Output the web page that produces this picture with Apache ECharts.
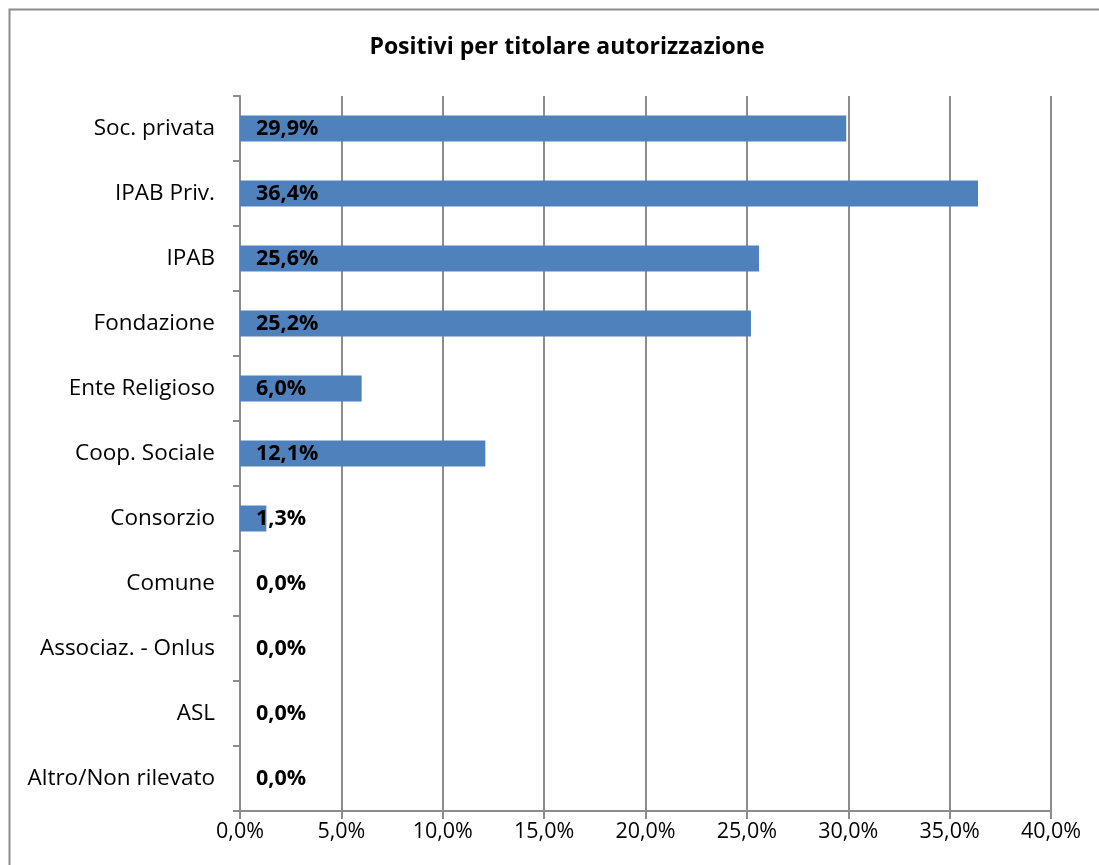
<!DOCTYPE html>
<html>
<head>
<meta charset="utf-8">
<script src="https://cdn.jsdelivr.net/npm/echarts@6/dist/echarts.min.js"></script>
<style>
  html, body { margin: 0; padding: 0; background: #fff; }
  #chart { width: 1099px; height: 865px; }
</style>
</head>
<body>
<div id="chart"></div>
<script>
const categories = [
  'Soc. privata', 'IPAB Priv.', 'IPAB', 'Fondazione', 'Ente Religioso',
  'Coop. Sociale', 'Consorzio', 'Comune', 'Associaz. - Onlus', 'ASL', 'Altro/Non rilevato'
]
const values = [29.9, 36.4, 25.6, 25.2, 6.0, 12.1, 1.3, 0, 0, 0, 0]
const axisTicks = [0, 5, 10, 15, 20, 25, 30, 35, 40]

const fmt = v => v.toFixed(1).replace('.', ',') + '%'
const font = '"Open Sans", "Noto Sans", sans-serif'
const gray = '#8c8c8c'

const chart = echarts.init(document.getElementById('chart'))
chart.setOption({
  animation: false,
  textStyle: { fontFamily: font },
  title: {
    text: 'Positivi per titolare autorizzazione',
    left: 562,
    textAlign: 'center',
    top: 31,
    textStyle: { fontSize: 23, fontWeight: 'bold', color: '#000', fontFamily: font }
  },
  graphic: [{
    type: 'rect',
    shape: { x: 9.5, y: 9.5, width: 1200, height: 1000 },
    style: { fill: 'none', stroke: gray, lineWidth: 2 },
    silent: true
  }],
  grid: { left: 240, right: 48, top: 96, bottom: 54 },
  xAxis: {
    type: 'value',
    min: axisTicks[0],
    max: axisTicks[axisTicks.length - 1],
    interval: 5,
    axisLine: { show: true, lineStyle: { color: gray, width: 2 } },
    axisTick: { show: true, length: 8, lineStyle: { color: gray, width: 2 } },
    splitLine: { show: true, lineStyle: { color: gray, width: 2 } },
    axisLabel: { color: '#000', fontSize: 21.5, margin: 10, formatter: v => fmt(v), fontFamily: font }
  },
  yAxis: {
    type: 'category',
    inverse: true,
    data: categories,
    axisLine: { show: true, lineStyle: { color: gray, width: 2 } },
    axisTick: { show: true, length: 7, lineStyle: { color: gray, width: 2 } },
    axisLabel: { color: '#000', fontSize: 22.5, margin: 25, fontFamily: font }
  },
  series: [{
    type: 'bar',
    data: values,
    barWidth: 26,
    itemStyle: { color: '#4f81bd' },
    label: {
      show: true,
      position: 'insideLeft',
      distance: 16,
      color: '#000',
      fontSize: 21.5,
      fontWeight: 'bold',
      fontFamily: font,
      formatter: p => fmt(p.value)
    }
  }]
})
</script>
</body>
</html>
